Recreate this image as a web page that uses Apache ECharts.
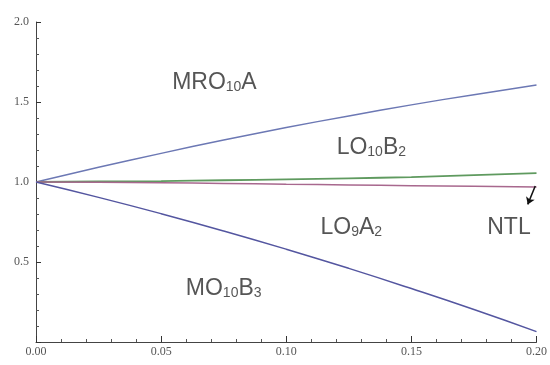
<!DOCTYPE html>
<html>
<head>
<meta charset="utf-8">
<script src="https://cdn.jsdelivr.net/npm/echarts@6/dist/echarts.min.js"></script>
<style>
  html, body { margin: 0; padding: 0; background: #fff; }
  #main { width: 550px; height: 365px; }
</style>
</head>
<body>
<div id="main"></div>
<script>
// x positions of the sampled points
var xValues = [0, 0.025, 0.05, 0.075, 0.1, 0.125, 0.15, 0.175, 0.2];
// curves
var mro10a = [1.0, 1.092, 1.179, 1.262, 1.34, 1.413, 1.482, 1.546, 1.606];
var lo10b2 = [1.0, 1.003, 1.006, 1.011, 1.016, 1.023, 1.031, 1.043, 1.056];
var lo9a2  = [1.0, 0.998, 0.995, 0.991, 0.986, 0.982, 0.977, 0.973, 0.969];
var mo10b3 = [1.0, 0.904, 0.802, 0.694, 0.58, 0.46, 0.334, 0.203, 0.065];

// text labels placed in data coordinates: [x, y, rich text]
var notes = [
  [0.0713, 1.625, '{b|MRO}{s|10}{b|A}'],
  [0.1340, 1.22, '{b|LO}{s|10}{b|B}{s|2}'],
  [0.1260, 0.72, '{b|LO}{s|9}{b|A}{s|2}'],
  [0.1890, 0.72, '{b|NTL}'],
  [0.0750, 0.34, '{b|MO}{s|10}{b|B}{s|3}']
];

function pairs(ys) {
  return xValues.map(function (x, i) { return [x, ys[i]]; });
}

var chart = echarts.init(document.getElementById('main'));

var tickFont = {
  color: '#555',
  fontFamily: 'Liberation Serif',
  fontSize: 12
};

var option = {
  animation: false,
  grid: { left: 36, right: 12, top: 22, bottom: 23 },
  xAxis: {
    type: 'value',
    min: 0,
    max: 0.2,
    interval: 0.05,
    axisLine: { lineStyle: { color: '#444', width: 1 } },
    axisTick: { inside: true, length: 6, lineStyle: { color: '#333' } },
    minorTick: { show: true, splitNumber: 5, length: 3, lineStyle: { color: '#555' } },
    splitLine: { show: false },
    axisLabel: Object.assign({
      margin: 4,
      formatter: function (v) { return v.toFixed(2); }
    }, tickFont)
  },
  yAxis: {
    type: 'value',
    min: 0,
    max: 2,
    interval: 0.5,
    axisLine: { show: true, lineStyle: { color: '#444', width: 1 } },
    axisTick: { show: true, inside: true, length: 5, lineStyle: { color: '#333' } },
    minorTick: { show: true, splitNumber: 5, length: 3, lineStyle: { color: '#555' } },
    splitLine: { show: false },
    axisLabel: Object.assign({
      margin: 7,
      formatter: function (v) { return v === 0 ? '' : v.toFixed(1); }
    }, tickFont)
  },
  series: [
    {
      name: 'MRO10A', type: 'line', smooth: true, symbol: 'none',
      lineStyle: { color: '#6c78b4', width: 1.5 },
      data: pairs(mro10a)
    },
    {
      name: 'LO10B2', type: 'line', smooth: true, symbol: 'none',
      lineStyle: { color: '#5f9a5f', width: 1.8 },
      data: pairs(lo10b2)
    },
    {
      name: 'LO9A2', type: 'line', smooth: true, symbol: 'none',
      lineStyle: { color: '#a8688e', width: 1.5 },
      data: pairs(lo9a2),
      markLine: {
        silent: true,
        symbol: ['none', 'arrow'],
        symbolSize: 7,
        label: { show: false },
        lineStyle: { color: '#111', width: 1.5, type: 'solid' },
        data: [[{ coord: [0.1995, 0.975] }, { coord: [0.1965, 0.86] }]]
      }
    },
    {
      name: 'MO10B3', type: 'line', smooth: true, symbol: 'none',
      lineStyle: { color: '#5456a0', width: 1.5 },
      data: pairs(mo10b3)
    },
    {
      name: 'notes', type: 'scatter', symbolSize: 0, silent: true, clip: false,
      data: notes,
      label: {
        show: true,
        position: 'inside',
        formatter: function (p) { return p.data[2]; },
        rich: {
          b: { fontFamily: 'Liberation Sans', fontSize: 23, color: '#2a2a2a', verticalAlign: 'bottom', lineHeight: 25 },
          s: { fontFamily: 'Liberation Sans', fontSize: 14, color: '#2a2a2a', verticalAlign: 'bottom', lineHeight: 21 }
        }
      }
    }
  ]
};
chart.setOption(option);
</script>
</body>
</html>
